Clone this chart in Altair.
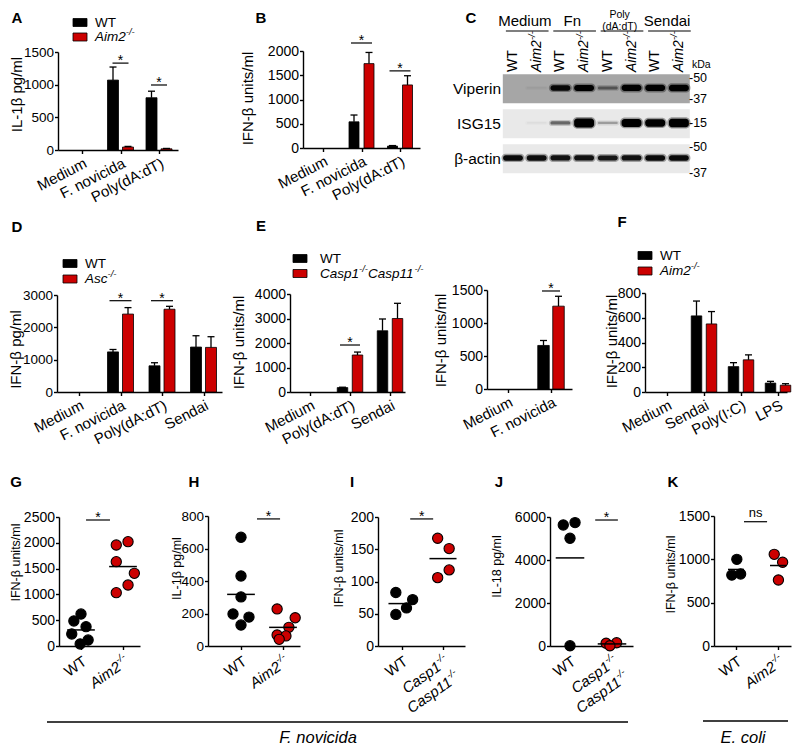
import json
import altair as alt
import pandas as pd

FONT = "Liberation Sans"
RED = "#CC0000"
OX, OY = 8, 8
W, H = 784, 738


def px(x):
    return x - OX


def py(y):
    return y - OY


# ---------------------------------------------------------------- data
A_cats = ["Medium", "F. novicida", "Poly(dA:dT)"]
A_wt = [0, 1070, 800]
A_wt_err = [0, 200, 100]
A_ko = [0, 45, 18]
A_ko_err = [0, 10, 6]

B_cats = ["Medium", "F. novicida", "Poly(dA:dT)"]
B_wt = [0, 540, 40]
B_wt_err = [0, 140, 10]
B_ko = [0, 1740, 1300]
B_ko_err = [0, 230, 190]

D_cats = ["Medium", "F. novicida", "Poly(dA:dT)", "Sendai"]
D_wt = [0, 1240, 810, 1390]
D_wt_err = [0, 75, 95, 350]
D_ko = [0, 2410, 2560, 1380]
D_ko_err = [0, 200, 90, 330]

E1_cats = ["Medium", "Poly(dA:dT)", "Sendai"]
E1_wt = [0, 180, 2500]
E1_wt_err = [0, 15, 480]
E1_ko = [0, 1510, 3000]
E1_ko_err = [0, 120, 620]

E2_cats = ["Medium", "F. novicida"]
E2_wt = [0, 660]
E2_wt_err = [0, 75]
E2_ko = [0, 1255]
E2_ko_err = [0, 150]

F_cats = ["Medium", "Sendai", "Poly(I:C)", "LPS"]
F_wt = [0, 615, 205, 72]
F_wt_err = [0, 120, 32, 14]
F_ko = [0, 550, 260, 55]
F_ko_err = [0, 100, 40, 12]

# western blot (panel C)
BLOT_ROWS = ["Viperin", "ISG15", "β-actin"]
LANE_GENO = ["WT", "Aim2-/-", "WT", "Aim2-/-", "WT", "Aim2-/-", "WT", "Aim2-/-"]
BLOT_GROUPS = ["Medium", "Fn", "Poly(dA:dT)", "Sendai"]
GROUP_FIRST = [0, 2, 4, 6]
GROUP_LAST = [1, 3, 5, 7]
VIPERIN = [0.0, 0.05, 0.9, 1.0, 0.4, 1.05, 1.05, 1.1]
ISG15 = [0.0, 0.04, 0.45, 1.6, 0.25, 1.4, 1.3, 1.5]
ACTIN = [0.9, 0.88, 0.85, 0.85, 0.82, 0.85, 0.9, 0.9]
MW_LABEL = ["50", "37", "15", "50", "37"]
MW_ROW = [0, 0, 1, 2, 2]
MW_POS = [-0.31, 0.29, -0.03, -0.34, 0.40]

# dot plots (panels G-K); jitter in category-width units
G_labels = ["WT", "Aim2-/-"]
G_wt = [620, 485, 375, 233, 116, 39]
G_wt_jit = [0.0, -0.17, 0.12, -0.22, 0.17, -0.02]
G_ko = [1957, 2022, 1634, 1408, 1182, 1034]
G_ko_jit = [-0.16, 0.12, -0.16, 0.27, 0.12, -0.16]

H_labels = ["WT", "Aim2-/-"]
H_wt = [669, 431, 302, 197, 178, 129]
H_wt_jit = [0.0, 0.0, 0.0, -0.19, 0.19, 0.0]
H_ko = [228, 174, 115, 68, 62, 41]
H_ko_jit = [-0.14, 0.29, 0.14, -0.14, 0.07, -0.09]

I_labels = ["WT", "Casp1-/-\nCasp11-/-"]
I_wt = [83, 72, 59, 49]
I_wt_jit = [-0.15, 0.26, 0.11, -0.15]
I_ko = [167, 151, 118, 106]
I_ko_jit = [-0.13, 0.15, 0.15, -0.13]

J_labels = ["WT", "Casp1-/-\nCasp11-/-"]
J_wt = [5630, 5740, 5010, 10]
J_wt_jit = [-0.16, 0.12, 0.0, 0.0]
J_ko = [130, 150, 10]
J_ko_jit = [-0.14, 0.11, -0.05]

K_labels = ["WT", "Aim2-/-"]
K_wt = [1000, 819, 831]
K_wt_jit = [0.02, -0.1, 0.11]
K_ko = [1058, 966, 762]
K_ko_jit = [-0.09, 0.11, 0.01]

# ---------------------------------------------------------------- helpers
EM = {"A": .667, "C": .722, "W": .944, "T": .611, "i": .222, "m": .833, "2": .556,
      "1": .556, "s": .5, "c": .5, "a": .556, "p": .556, "-": .333, "/": .278}


def tw(s, size):
    return sum(EM.get(ch, .55) for ch in s) * size


AXIS_STYLE = dict(domainColor="black", domainWidth=1.4, tickColor="black", tickWidth=1.4,
                  tickSize=3.5, labelColor="black", labelFont=FONT, grid=False,
                  labelFlush=False, labelOverlap=False, titleFont=FONT,
                  titleFontWeight="normal", titleColor="black")


def y_axis(xs, yticks, title, tx, ty, tfs, lfs):
    return alt.Axis(orient="left", offset=-px(xs), values=yticks, format="d",
                    labelFontSize=lfs, labelPadding=1, title=title,
                    titleX=px(tx) - px(xs), titleY=py(ty), titleAngle=270,
                    titleAlign="center", titleBaseline="middle", titleFontSize=tfs,
                    **AXIS_STYLE)


def x_axis_bar(y0, cats):
    return alt.Axis(orient="bottom", offset=py(y0) - H, values=list(range(len(cats))),
                    labelExpr=f"{json.dumps(cats)}[datum.value]", labelAngle=333,
                    labelAlign="right", labelBaseline="top", labelFontSize=15,
                    labelPadding=2, title=None, **AXIS_STYLE)


def x_axis_dot(y0, n):
    return alt.Axis(orient="bottom", offset=py(y0) - H, values=list(range(n)),
                    labels=False, title=None, **AXIS_STYLE)


def text_layer(text, x, y, size, align="left", baseline="middle", style="normal",
               weight="normal", angle=0, dx=0, dy=0):
    return alt.Chart(pd.DataFrame({"t": [text]})).mark_text(
        font=FONT, fontSize=size, align=align, baseline=baseline, fontStyle=style,
        fontWeight=weight, angle=angle, dx=dx, dy=dy, color="black").encode(
        x=alt.value(px(x)), y=alt.value(py(y)), text="t:N")


def legend(x0, yw, yk, xt, ko_label):
    layers = []
    for yc, fill in [(yw, "black"), (yk, RED)]:
        layers.append(alt.Chart(pd.DataFrame({"k": [0]})).mark_rect(
            fill=fill, stroke="black", strokeWidth=0.8).encode(
            x=alt.value(px(x0)), x2=alt.value(px(x0 + 14)),
            y=alt.value(py(yc - 4)), y2=alt.value(py(yc + 4))))
    layers.append(text_layer("WT", xt, yw, 13.5))
    x = xt
    for part in ko_label.split("-/-"):
        if not part:
            continue
        layers.append(text_layer(part, x, yk, 13.5, style="italic"))
        x += tw(part, 13.5)
        layers.append(text_layer("-/-", x, yk - 5, 9.5, style="italic"))
        x += tw("-/-", 9.5)
    return layers


def bar_panel(cats, wt, wt_err, ko, ko_err, L):
    n = len(cats)
    df = pd.DataFrame({
        "idx": list(range(n)) * 2,
        "grp": ["WT"] * n + ["KO"] * n,
        "side": [-1] * n + [1] * n,
        "val": list(wt) + list(ko),
        "err": list(wt_err) + list(ko_err),
    })
    step = L["step"]
    xsc = alt.Scale(domain=[(L["xs"] - L["t0"]) / step, (L["xe"] - L["t0"]) / step],
                    range=[px(L["xs"]), px(L["xe"])], nice=False, zero=False)
    ysc = alt.Scale(domain=[0, L["ymax"]], range=[py(L["y0"]), py(L["ytop"])],
                    nice=False, zero=False)
    xa = x_axis_bar(L["y0"], cats)
    ya = y_axis(L["xs"], L["yticks"], L["title"], L["tx"], L["ty"], 15, L.get("lfs", 14))

    def X(f):
        return alt.X(f, scale=xsc, axis=xa)

    def Y(f):
        return alt.Y(f, scale=ysc, axis=ya)

    off = 7.5 / step
    hw = L.get("bw", 11) / 2 / step
    cap = 3.5 / step
    base = alt.Chart(df).transform_calculate(
        xc=f"datum.idx + datum.side * {off}",
        bx1=f"datum.idx + datum.side * {off} - {hw}",
        bx2=f"datum.idx + datum.side * {off} + {hw}",
        cx1=f"datum.idx + datum.side * {off} - {cap}",
        cx2=f"datum.idx + datum.side * {off} + {cap}",
        top="datum.val + datum.err",
        zero="0",
    )
    fill = alt.condition("datum.grp == 'WT'", alt.value("black"), alt.value(RED))
    bars = base.transform_filter("datum.val > 0").mark_rect(
        stroke="black", strokeWidth=0.8).encode(
        x=X("bx1:Q"), x2="bx2:Q", y=Y("val:Q"), y2="zero:Q", fill=fill)
    err = base.transform_filter("datum.err > 0")
    wh = err.mark_rule(color="black", strokeWidth=1.3).encode(
        x=X("xc:Q"), y=Y("val:Q"), y2="top:Q")
    caps = err.mark_rule(color="black", strokeWidth=1.3).encode(
        x=X("cx1:Q"), x2="cx2:Q", y=Y("top:Q"))
    layers = [bars, wh, caps]
    if L.get("sig"):
        sdf = pd.DataFrame({"idx": [s[0] for s in L["sig"]],
                            "y": [s[1] for s in L["sig"]],
                            "t": ["*"] * len(L["sig"])})
        sw = L["sw"] / 2 / step
        rule = alt.Chart(sdf).transform_calculate(
            s1=f"datum.idx - {sw}", s2=f"datum.idx + {sw}").mark_rule(
            color="black", strokeWidth=1.2).encode(
            x=X("s1:Q"), x2="s2:Q", y=Y("y:Q"))
        star = alt.Chart(sdf).mark_text(font=FONT, fontSize=14, baseline="alphabetic",
                                        dy=2, color="black").encode(
            x=X("idx:Q"), y=Y("y:Q"), text="t:N")
        layers += [rule, star]
    return alt.layer(*layers)


def geno_labels(X, y0, labels):
    layers = []
    for idx, lab in enumerate(labels):
        for li, line in enumerate(lab.split("\n")):
            sup = line.endswith("-/-")
            main = line[:-3] if sup else line
            style = "normal" if main == "WT" else "italic"
            supw = tw("-/-", 10) if sup else 0
            layers.append(alt.Chart(pd.DataFrame({"idx": [idx], "t": [main]})).mark_text(
                font=FONT, fontSize=15, angle=325, align="right", baseline="top",
                fontStyle=style, dx=-supw, dy=li * 19, color="black").encode(
                x=X("idx:Q"), y=alt.value(py(y0) + 8), text="t:N"))
            if sup:
                layers.append(alt.Chart(pd.DataFrame({"idx": [idx], "t": ["-/-"]})).mark_text(
                    font=FONT, fontSize=10, angle=325, align="right", baseline="top",
                    fontStyle="italic", dy=li * 19 - 3, color="black").encode(
                    x=X("idx:Q"), y=alt.value(py(y0) + 8), text="t:N"))
    return layers


def dot_panel(labels, wt, wt_jit, ko, ko_jit, L):
    df = pd.DataFrame({
        "idx": [0] * len(wt) + [1] * len(ko),
        "val": list(wt) + list(ko),
        "jit": list(wt_jit) + list(ko_jit),
    })
    step = L["t1"] - L["t0"]
    xsc = alt.Scale(domain=[(L["xs"] - L["t0"]) / step, (L["xe"] - L["t0"]) / step],
                    range=[px(L["xs"]), px(L["xe"])], nice=False, zero=False)
    ysc = alt.Scale(domain=[0, L["ymax"]], range=[py(L["y0"]), py(L["ytop"])],
                    nice=False, zero=False)
    xa = x_axis_dot(L["y0"], 2)
    ya = y_axis(L["xs"], L["yticks"], L["title"], L["tx"], L["ty"], 12.5, L.get("lfs", 14))

    def X(f):
        return alt.X(f, scale=xsc, axis=xa)

    def Y(f):
        return alt.Y(f, scale=ysc, axis=ya)

    pts = alt.Chart(df).transform_calculate(xp="datum.idx + datum.jit").mark_circle(
        size=105, stroke="black", strokeWidth=1.1, opacity=1).encode(
        x=X("xp:Q"), y=Y("val:Q"),
        fill=alt.condition("datum.idx == 0", alt.value("black"), alt.value(RED)))
    hw = L["hw"]
    means = alt.Chart(df).transform_aggregate(m="mean(val)", groupby=["idx"]).transform_calculate(
        l1=f"datum.idx - {hw}", l2=f"datum.idx + {hw}").mark_rule(
        color="black", strokeWidth=1.5).encode(
        x=X("l1:Q"), x2="l2:Q", y=Y("m:Q"))
    s0, s1, sy, st = L["sig"]
    sdf = pd.DataFrame({"a": [s0], "b": [s1], "y": [sy], "t": [st]})
    srule = alt.Chart(sdf).mark_rule(color="black", strokeWidth=1.2).encode(
        x=X("a:Q"), x2="b:Q", y=Y("y:Q"))
    stext = alt.Chart(sdf).transform_calculate(c="(datum.a + datum.b) / 2").mark_text(
        font=FONT, fontSize=14 if st == "*" else 13, baseline="alphabetic",
        dy=2 if st == "*" else -5, color="black").encode(
        x=X("c:Q"), y=Y("y:Q"), text="t:N")
    return alt.layer(pts, means, srule, stext, *geno_labels(X, L["y0"], labels))


def blot_panel():
    xsc = alt.Scale(domain=[-1, 8], range=[px(513 - 23.7), px(513 + 8 * 23.7)],
                    nice=False, zero=False)
    ysc = alt.Scale(domain=[-1, 3], range=[py(54), py(194)], nice=False, zero=False)

    def X(f):
        return alt.X(f, scale=xsc, axis=None)

    def Y(f):
        return alt.Y(f, scale=ysc, axis=None)

    rows_df = pd.DataFrame({"row": [0, 1, 2], "name": BLOT_ROWS})
    boxes = alt.Chart(rows_df).transform_calculate(
        x1="-0.43", x2="7.46", y1="datum.row - 0.42", y2="datum.row + 0.41").mark_rect().encode(
        x=X("x1:Q"), x2="x2:Q", y=Y("y1:Q"), y2="y2:Q",
        fill=alt.condition("datum.row == 0", alt.value("#a6a6a6"), alt.value("#e9e9e9")))
    bands_df = pd.DataFrame({"lane": list(range(8)) * 3,
                             "row": [0] * 8 + [1] * 8 + [2] * 8,
                             "sig": VIPERIN + ISG15 + ACTIN})
    bb = alt.Chart(bands_df).transform_filter("datum.sig > 0").transform_calculate(
        h="0.015 + 0.07 * datum.sig",
        bx1="datum.lane - 0.42", bx2="datum.lane + 0.42",
        by1="datum.row - 0.03 - datum.h", by2="datum.row - 0.03 + datum.h",
        gx1="datum.lane - 0.49", gx2="datum.lane + 0.49",
        gy1="datum.row - 0.07 - datum.h", gy2="datum.row + 0.01 + datum.h",
        op="min(1, 1.05 * datum.sig)", gop="0.35 * min(1, 1.05 * datum.sig)")
    glow = bb.mark_rect(cornerRadius=5, fill="black").encode(
        x=X("gx1:Q"), x2="gx2:Q", y=Y("gy1:Q"), y2="gy2:Q",
        opacity=alt.Opacity("gop:Q", scale=None, legend=None))
    core = bb.mark_rect(cornerRadius=3, fill="black").encode(
        x=X("bx1:Q"), x2="bx2:Q", y=Y("by1:Q"), y2="by2:Q",
        opacity=alt.Opacity("op:Q", scale=None, legend=None))
    lanes_df = pd.DataFrame({"lane": list(range(8)), "g": LANE_GENO})
    lab_wt = alt.Chart(lanes_df).transform_filter("datum.g == 'WT'").mark_text(
        font=FONT, fontSize=14, angle=270, align="left", baseline="middle", color="black").encode(
        x=X("lane:Q"), y=alt.value(py(72)), text="g:N")
    lab_ko = alt.Chart(lanes_df).transform_filter("datum.g != 'WT'").transform_calculate(
        main="replace(datum.g, '-/-', '')").mark_text(
        font=FONT, fontSize=14, angle=270, align="left", baseline="middle",
        fontStyle="italic", color="black").encode(
        x=X("lane:Q"), y=alt.value(py(72)), text="main:N")
    lab_sup = alt.Chart(lanes_df).transform_filter("datum.g != 'WT'").transform_calculate(
        sup="'-/-'").mark_text(
        font=FONT, fontSize=9.5, angle=270, align="left", baseline="middle",
        fontStyle="italic", dx=tw("Aim2", 14), dy=-4.5, color="black").encode(
        x=X("lane:Q"), y=alt.value(py(72)), text="sup:N")
    rl = alt.Chart(rows_df).mark_text(font=FONT, fontSize=15.5, align="right",
                                      baseline="middle", color="black").encode(
        x=alt.value(px(501)), y=Y("row:Q"), text="name:N")
    mw_df = pd.DataFrame({"row": MW_ROW, "pos": MW_POS, "lab": MW_LABEL})
    mw = alt.Chart(mw_df).transform_calculate(
        yy="datum.row + datum.pos", t="'-' + datum.lab").mark_text(
        font=FONT, fontSize=12.5, align="left", baseline="middle", color="black").encode(
        x=alt.value(px(689)), y=Y("yy:Q"), text="t:N")
    g_df = pd.DataFrame({"g": BLOT_GROUPS, "first": GROUP_FIRST, "last": GROUP_LAST})
    gbase = alt.Chart(g_df).transform_calculate(
        mid="(datum.first + datum.last) / 2", u1="datum.first - 0.3", u2="datum.last + 0.5",
        lines="[slice(datum.g, 0, 4), slice(datum.g, 4)]")
    gh = gbase.transform_filter("indexof(datum.g, '(') < 0").mark_text(
        font=FONT, fontSize=15, baseline="alphabetic", color="black").encode(
        x=X("mid:Q"), y=alt.value(py(25.5)), text="g:N")
    gp = gbase.transform_filter("indexof(datum.g, '(') >= 0").mark_text(
        font=FONT, fontSize=10.5, baseline="alphabetic", lineHeight=12, color="black").encode(
        x=X("mid:Q"), y=alt.value(py(18)), text="lines:N")
    gu = gbase.mark_rule(color="black", strokeWidth=1.2).encode(
        x=X("u1:Q"), x2="u2:Q", y=alt.value(py(31)))
    kda = text_layer("kDa", 692, 65, 10.5)
    return alt.layer(boxes, glow, core, lab_wt, lab_ko, lab_sup, rl, mw, gh, gp, gu, kda)


# ---------------------------------------------------------------- panels
pA = bar_panel(A_cats, A_wt, A_wt_err, A_ko, A_ko_err, dict(
    xs=58, xe=178, t0=82, step=38.5, y0=150, ytop=52, ymax=1500,
    yticks=[0, 500, 1000, 1500], title="IL-1β pg/ml", tx=16, ty=94, lfs=13.5,
    sig=[(1, 1330), (2, 995)], sw=16))
pB = bar_panel(B_cats, B_wt, B_wt_err, B_ko, B_ko_err, dict(
    xs=303, xe=420, t0=323, step=38.5, y0=148, ytop=51, ymax=2000,
    yticks=[0, 500, 1000, 1500, 2000], title="IFN-β units/ml", tx=247, ty=98,
    sig=[(1, 2165), (2, 1590)], sw=21, bw=10))
pD = bar_panel(D_cats, D_wt, D_wt_err, D_ko, D_ko_err, dict(
    xs=57, xe=222, t0=79, step=41.5, y0=392, ytop=295, ymax=3000,
    yticks=[0, 1000, 2000, 3000], title="IFN-β pg/ml", tx=15.5, ty=349, lfs=13.5,
    sig=[(1, 2824), (2, 2824)], sw=22))
pE1 = bar_panel(E1_cats, E1_wt, E1_wt_err, E1_ko, E1_ko_err, dict(
    xs=290, xe=405, t0=310, step=40, y0=392, ytop=294, ymax=4000,
    yticks=[0, 1000, 2000, 3000, 4000], title="IFN-β units/ml", tx=238, ty=342,
    sig=[(1, 1918)], sw=20, bw=10.5))
pE2 = bar_panel(E2_cats, E2_wt, E2_wt_err, E2_ko, E2_ko_err, dict(
    xs=487, xe=572, t0=508, step=43, y0=389, ytop=290, ymax=1500,
    yticks=[0, 500, 1000, 1500], title="IFN-β units/ml", tx=440, ty=340,
    sig=[(1, 1485)], sw=18, bw=11.5))
pF = bar_panel(F_cats, F_wt, F_wt_err, F_ko, F_ko_err, dict(
    xs=645, xe=787, t0=667, step=37, y0=392, ytop=293, ymax=800,
    yticks=[0, 200, 400, 600, 800], title="IFN-β units/ml", tx=611, ty=341, bw=10.5))

pG = dot_panel(G_labels, G_wt, G_wt_jit, G_ko, G_ko_jit, dict(
    xs=59, xe=140, t0=81, t1=123, y0=646, ytop=517, ymax=2500,
    yticks=[0, 500, 1000, 1500, 2000, 2500], title="IFN-β units/ml", tx=15, ty=562,
    hw=0.33, sig=(0.12, 0.69, 2442, "*")))
pH = dot_panel(H_labels, H_wt, H_wt_jit, H_ko, H_ko_jit, dict(
    xs=208, xe=300, t0=241, t1=283, y0=646, ytop=516, ymax=800,
    yticks=[0, 200, 400, 600, 800], title="IL-1β pg/ml", tx=176, ty=568, lfs=13.5,
    hw=0.33, sig=(0.38, 0.93, 782, "*")))
pI = dot_panel(I_labels, I_wt, I_wt_jit, I_ko, I_ko_jit, dict(
    xs=378, xe=465, t0=402, t1=443, y0=646, ytop=517, ymax=200,
    yticks=[0, 50, 100, 150, 200], title="IFN-β units/ml", tx=338, ty=568,
    hw=0.33, sig=(0.2, 0.76, 197, "*")))
pJ = dot_panel(J_labels, J_wt, J_wt_jit, J_ko, J_ko_jit, dict(
    xs=550, xe=633, t0=570, t1=612, y0=646, ytop=517, ymax=6000,
    yticks=[0, 2000, 4000, 6000], title="IL-18 pg/ml", tx=496, ty=566,
    hw=0.34, sig=(0.6, 1.14, 5860, "*")))
pK = dot_panel(K_labels, K_wt, K_wt_jit, K_ko, K_ko_jit, dict(
    xs=714, xe=791, t0=736, t1=778, y0=646, ytop=516, ymax=1500,
    yticks=[0, 500, 1000, 1500], title="IFN-β units/ml", tx=670, ty=574,
    hw=0.19, sig=(0.19, 0.74, 1434, "ns")))

letters = [("A", 17, 17.5), ("B", 261, 17.5), ("C", 471, 17.5), ("D", 17, 227),
           ("E", 261, 226), ("F", 622, 222), ("G", 16, 482), ("H", 194, 482),
           ("I", 352, 482), ("J", 499, 482), ("K", 673, 482)]
letter_layers = [text_layer(t, x, y, 15, align="center", weight="bold") for t, x, y in letters]

legends = (legend(73, 22.5, 37, 95, "Aim2-/-") + legend(63, 263.5, 279, 85, "Asc-/-")
           + legend(293, 258.5, 273.5, 320, "Casp1-/-Casp11-/-")
           + legend(638, 255.5, 271, 660, "Aim2-/-"))


def hline(x1, x2, y):
    return alt.Chart(pd.DataFrame({"k": [0]})).mark_rule(color="black", strokeWidth=1.4).encode(
        x=alt.value(px(x1)), x2=alt.value(px(x2)), y=alt.value(py(y)))


bottom = [hline(47, 628, 722), hline(703, 788, 721),
          text_layer("F. novicida", 318, 738, 16.5, align="center", style="italic"),
          text_layer("E. coli", 743, 738, 16.5, align="center", style="italic")]

chart = alt.layer(
    pA, pB, blot_panel(), pD, pE1, pE2, pF, pG, pH, pI, pJ, pK,
    *letter_layers, *legends, *bottom
).resolve_scale(x="independent", y="independent").properties(
    width=W, height=H, autosize=alt.AutoSizeParams(type="none"), padding=0
).configure(font=FONT, background="white", view={"stroke": None})

chart.save("out.html", embed_options={"renderer": "svg", "actions": False})
